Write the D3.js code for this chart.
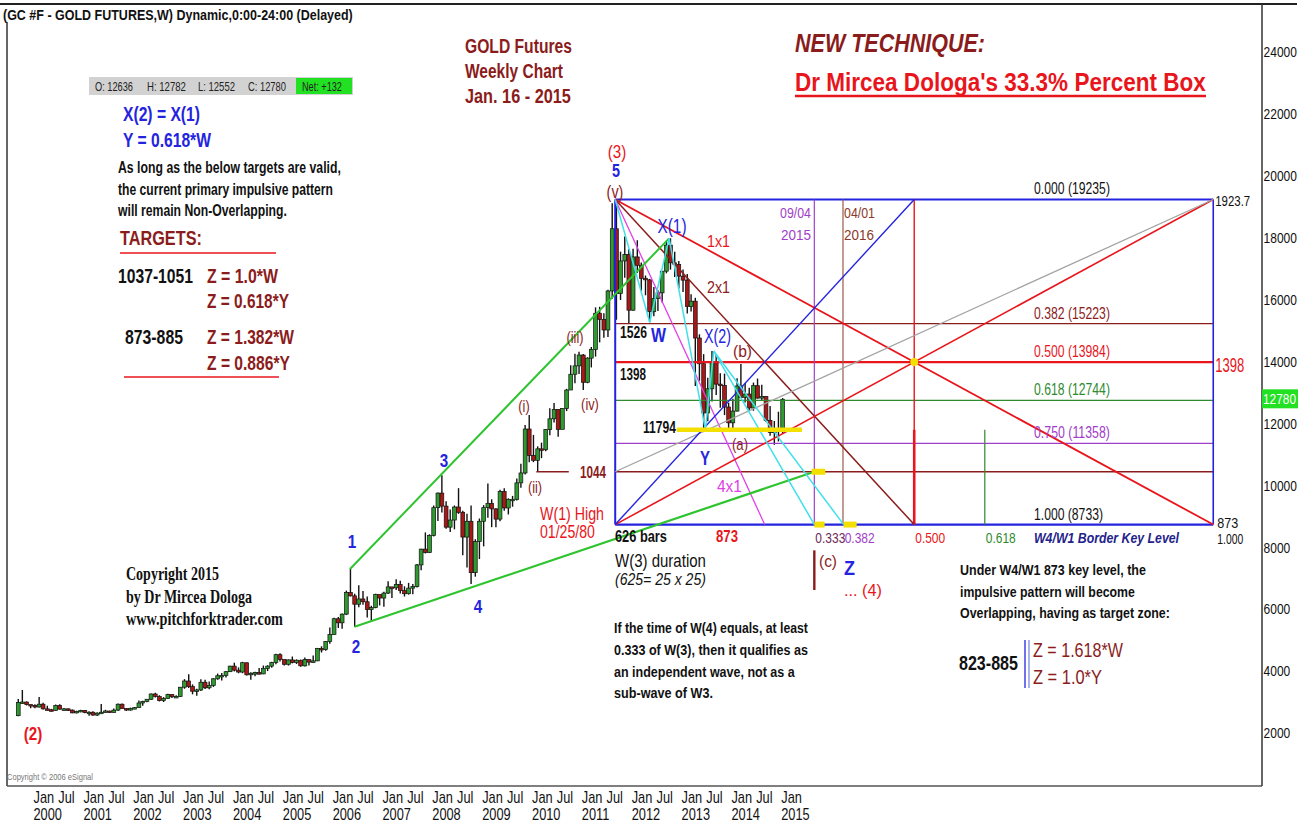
<!DOCTYPE html>
<html>
<head>
<meta charset="utf-8">
<script src="https://cdn.jsdelivr.net/npm/d3@7"></script>
<style>
  body { margin: 0; background: #fff; }
  svg text { font-family: "Liberation Sans", Arial, sans-serif; }
</style>
</head>
<body>
<svg id="chart" width="1306" height="827"></svg>
<script>
// monthly bars, Sep 1999 .. Jan 2015 (USD, chart labels are x10)
var firstMonth = new Date(Date.UTC(1999, 8, 1));
var firstOpen = 256;
var highs = [310, 339, 302, 292,
  293, 316, 298, 288, 278, 292, 293, 281, 279, 276, 272, 275,
  274, 270, 270, 267, 294, 275, 272, 279, 295, 295, 280, 282,
  284, 305, 304, 310, 328, 330, 322, 316, 327, 324, 322, 349,
  374, 390, 357, 343, 374, 372, 366, 377, 392, 394, 400, 417,
  427, 412, 430, 428, 396, 398, 410, 418, 419, 430, 456, 458,
  437, 438, 447, 438, 437, 444, 437, 450, 475, 480, 497, 541,
  572, 575, 586, 660, 732, 650, 677, 659, 641, 611, 650, 645,
  656, 690, 668, 697, 692, 674, 685, 681, 746, 795, 848, 842,
  935, 977, 1033, 949, 922, 935, 991, 918, 908, 935, 826, 893,
  936, 1006, 955, 926, 986, 991, 958, 966, 1022, 1070, 1195, 1227,
  1163, 1126, 1138, 1182, 1249, 1266, 1246, 1249, 1312, 1388, 1425, 1432,
  1424, 1414, 1447, 1575, 1577, 1556, 1632, 1911, 1923.7, 1755, 1804, 1763,
  1764, 1792, 1720, 1678, 1667, 1641, 1630, 1692, 1790, 1798, 1755, 1725,
  1697, 1683, 1617, 1606, 1488, 1424, 1348, 1434, 1424, 1362, 1361, 1267,
  1280, 1346, 1392, 1331, 1315, 1332, 1345, 1325, 1288, 1256, 1208, 1238,
  1282];
var lows = [254, 295, 289, 280,
  280, 282, 276, 273, 270, 272, 276, 273, 271, 264, 263, 267,
  264, 256, 256, 255, 263, 266, 265, 266, 271, 278, 271, 272,
  277, 281, 288, 299, 307, 315, 302, 300, 311, 313, 315, 316,
  343, 345, 325, 320, 336, 342, 341, 349, 372, 370, 379, 397,
  399, 393, 393, 386, 372, 383, 389, 390, 400, 411, 422, 431,
  418, 418, 425, 423, 414, 415, 418, 427, 432, 460, 466, 488,
  518, 539, 537, 581, 641, 543, 606, 614, 573, 562, 603, 612,
  608, 649, 636, 662, 651, 641, 647, 648, 670, 726, 780, 782,
  835, 885, 912, 860, 849, 858, 908, 774, 735, 681, 705, 762,
  803, 895, 865, 865, 884, 918, 906, 931, 951, 992, 1035, 1075,
  1075, 1044, 1088, 1110, 1162, 1203, 1157, 1192, 1240, 1308, 1330, 1360,
  1308, 1330, 1381, 1416, 1462, 1477, 1479, 1603, 1535, 1599, 1671, 1523,
  1564, 1686, 1629, 1614, 1527, 1546, 1563, 1591, 1685, 1697, 1673, 1636,
  1625, 1555, 1562, 1321, 1338, 1180, 1207, 1271, 1292, 1251, 1227, 1180,
  1182, 1239, 1283, 1268, 1240, 1241, 1280, 1273, 1205, 1160, 1131, 1142,
  1167];
var closes = [299, 300, 292, 289,
  284, 293, 278, 275, 273, 289, 277, 278, 274, 265, 270, 273,
  266, 267, 258, 264, 267, 271, 266, 274, 293, 279, 275, 279,
  282, 297, 302, 309, 326, 318, 305, 312, 324, 317, 318, 348,
  368, 350, 335, 339, 364, 346, 354, 375, 385, 386, 398, 416,
  403, 397, 427, 388, 393, 395, 391, 408, 416, 428, 453, 438,
  422, 436, 428, 435, 417, 437, 429, 433, 473, 470, 496, 518,
  569, 556, 584, 654, 643, 616, 633, 624, 599, 605, 648, 636,
  652, 672, 669, 680, 660, 650, 668, 673, 743, 794, 783, 838,
  928, 975, 933, 865, 888, 930, 913, 833, 884, 718, 819, 884,
  928, 942, 924, 891, 980, 927, 955, 955, 1008, 1040, 1182, 1097,
  1081, 1118, 1115, 1180, 1215, 1245, 1181, 1248, 1308, 1359, 1386, 1421,
  1333, 1411, 1439, 1556, 1536, 1502, 1628, 1829, 1620, 1725, 1746, 1566,
  1738, 1711, 1669, 1664, 1561, 1604, 1622, 1692, 1776, 1719, 1714, 1676,
  1663, 1578, 1595, 1476, 1393, 1234, 1312, 1396, 1327, 1323, 1253, 1202,
  1240, 1321, 1284, 1295, 1250, 1322, 1282, 1287, 1210, 1171, 1175, 1184,
  1278];

// axis ticks
var priceTicks = [200, 400, 600, 800, 1000, 1200, 1400, 1600, 1800, 2000, 2200, 2400];
var axisYears = d3.range(2000, 2016);

// elliott wave pivots
var waveLabels = ["1", "2", "3", "4", "(ii)", "(3)", "W", "X(1)", "Y", "X(2)"];
var waveDates = ["2006-05-12", "2006-06-14", "2008-03-17", "2008-10-24", "2010-02-05",
  "2011-09-06", "2012-05-16", "2012-10-05", "2013-06-28", "2013-08-28"];
var wavePrices = [730, 543, 1033, 681, 1044, 1923.7, 1527, 1798, 1180, 1434];

// 33.3% box: from the peak, 626 weekly bars wide, 1923.5 -> 873.3
var boxBars = 626;
var boxTop = 1923.5;
var boxBottom = 873.3;
var levelRatios = ["0.000", "0.382", "0.500", "0.618", "0.750", "1.000"];
var levelValues = [1923.5, 1522.3, 1398.4, 1274.4, 1135.8, 873.3];
var timeRatios = [0.25, 0.333, 0.382, 0.5, 0.618, 1.0];
var timeLabels = ["", "0.333", "0.382", "0.500", "0.618", "1.000"];
var keyDates = ["2015-09-04", "2016-04-01"];
var level1044 = 1044;
var level11794 = 1179.4;

var lastQuote = { open: 12636, high: 12782, low: 12552, close: 12780, net: 132 };

/************* setup ****************/
var svg = d3.select("#chart");
var blue = "#2424e0", red = "#e8161c", dred = "#8b1c1c", green = "#2fc42f", dgreen = "#2e8a2e",
  purple = "#a040c8", cyan = "#40e0ea", magenta = "#e040e6", grey = "#a3a3a3", yellow = "#f4e000";
var narrow = 0.8; // the picture is horizontally squeezed

var x = d3.scaleUtc()
  .domain([new Date(Date.UTC(2000, 0, 1)), new Date(Date.UTC(2015, 0, 1))])
  .range([33, 33 + 15 * 49.85]);
var y = d3.scaleLinear().domain([200, 2400]).range([733, 52]);

function dt(s) { return new Date(s + "T00:00:00Z"); }
var peakDate = dt(waveDates[5]);
var boxEnd = d3.utcWeek.offset(peakDate, boxBars);
function boxTime(f) { return new Date(+peakDate + f * (boxEnd - peakDate)); }
function wp(name) { var i = waveLabels.indexOf(name); return [dt(waveDates[i]), wavePrices[i]]; }

// frame
svg.append("line").attr("x1", 0).attr("x2", 1297).attr("y1", 4).attr("y2", 4)
  .style("stroke", "#222").style("stroke-width", 2);
svg.append("line").attr("x1", 7).attr("x2", 7).attr("y1", 22).attr("y2", 786)
  .style("stroke", "#333").style("stroke-width", 1.5);
svg.append("line").attr("x1", 7).attr("x2", 1262).attr("y1", 786).attr("y2", 786)
  .style("stroke", "#555").style("stroke-width", 1.5);
svg.append("line").attr("x1", 1262).attr("x2", 1262).attr("y1", 4).attr("y2", 786)
  .style("stroke", "#333").style("stroke-width", 1.5);

/************* axes ****************/
var yAxis = d3.axisRight(y).tickValues(priceTicks).tickSize(0).tickPadding(2)
  .tickFormat(function (d) { return d * 10; });
var gy = svg.append("g").attr("transform", "translate(1262,0)").call(yAxis);
gy.select(".domain").remove();
gy.selectAll("text").style("font-size", "15px").style("fill", "#111")
  .attr("transform", "scale(" + narrow + ",1)");

var monthTicks = [];
axisYears.forEach(function (yr) {
  monthTicks.push(new Date(Date.UTC(yr, 0, 1)));
  if (yr < 2015) monthTicks.push(new Date(Date.UTC(yr, 6, 1)));
});
var xAxisM = d3.axisBottom(x).tickValues(monthTicks).tickSize(0)
  .tickFormat(function (d) { return d.getUTCMonth() == 0 ? "Jan" : "Jul"; });
var gm = svg.append("g").attr("transform", "translate(0,792)").call(xAxisM);
var xAxisY = d3.axisBottom(x).tickValues(axisYears.map(function (yr) { return new Date(Date.UTC(yr, 0, 1)); }))
  .tickSize(0).tickFormat(d3.utcFormat("%Y"));
var gyr = svg.append("g").attr("transform", "translate(0,809)").call(xAxisY);
[gm, gyr].forEach(function (g) {
  g.select(".domain").remove();
  g.selectAll("text").attr("text-anchor", "start").attr("y", 0).attr("dy", "0.71em")
    .style("font-size", "16px").style("fill", "#111")
    .attr("transform", "scale(" + narrow + ",1)");
});

/************* price bars ****************/
var bars = closes.map(function (c, i) {
  var d = d3.utcMonth.offset(firstMonth, i);
  return { date: d3.utcDay.offset(d, 14), open: i == 0 ? firstOpen : closes[i - 1], high: highs[i], low: lows[i], close: c };
});
var gBars = svg.append("g");
gBars.selectAll("line").data(bars).enter().append("line")
  .attr("x1", function (d) { return x(d.date); })
  .attr("x2", function (d) { return x(d.date); })
  .attr("y1", function (d) { return y(d.high); })
  .attr("y2", function (d) { return y(d.low); })
  .style("stroke", "#111").style("stroke-width", 1.4);
gBars.selectAll("rect").data(bars).enter().append("rect")
  .attr("x", function (d) { return x(d.date) - 1.9; })
  .attr("width", 3.8)
  .attr("y", function (d) { return y(Math.max(d.open, d.close)); })
  .attr("height", function (d) { return Math.max(1.5, Math.abs(y(d.open) - y(d.close))); })
  .style("fill", function (d) { return d.close >= d.open ? "#2f9a2f" : "#a81818"; })
  .style("stroke", "#111").style("stroke-width", 0.7);

/************* box and lines ****************/
var gLines = svg.append("g");
function seg(p1, p2, color, w) {
  gLines.append("line")
    .attr("x1", x(p1[0])).attr("y1", y(p1[1]))
    .attr("x2", x(p2[0])).attr("y2", y(p2[1]))
    .style("stroke", color).style("stroke-width", w || 1.3);
}
var levelColors = [blue, dred, red, dgreen, purple, blue];
var levelWidths = [2.2, 1.3, 2.2, 1.3, 1.3, 2.2];
levelValues.forEach(function (v, i) {
  seg([peakDate, v], [boxEnd, v], levelColors[i], levelWidths[i]);
});
seg([peakDate, level1044], [boxEnd, level1044], dred, 1.3);
seg([peakDate, boxTop], [peakDate, boxBottom], blue, 2);
seg([boxEnd, boxTop], [boxEnd, boxBottom], blue, 1.6);

// time verticals
seg([boxTime(0.5), boxTop], [boxTime(0.5), boxBottom], red, 1.4);
seg([boxTime(0.5), level11794], [boxTime(0.5), boxBottom], red, 2.6);
seg([boxTime(0.618), level11794], [boxTime(0.618), boxBottom], dgreen, 1.2);
seg([dt(keyDates[0]), boxTop], [dt(keyDates[0]), boxBottom], purple, 1.2);
seg([dt(keyDates[1]), boxTop], [dt(keyDates[1]), boxBottom], "#9a5a4a", 1.2);
seg([dt(keyDates[0]), 790], [dt(keyDates[0]), 662], dred, 2.4);

// fans from the peak and from the box corners
seg([peakDate, boxTop], [boxEnd, boxBottom], red, 1.8);
seg([peakDate, boxTop], [boxTime(0.5), boxBottom], dred, 1.5);
seg([peakDate, boxTop], [boxTime(0.25), boxBottom], magenta, 1.3);
seg([peakDate, boxBottom], [boxEnd, boxTop], red, 1.6);
seg([peakDate, level1044], [boxEnd, boxTop], grey, 1.3);
seg([peakDate, boxBottom], [boxTime(0.5), boxTop], blue, 1.4);

// wedge lines
seg(wp("1"), wp("X(1)"), green, 2);
seg(wp("2"), [boxTime(timeRatios[1]), level1044], green, 2.2);

// corrective zigzag
seg(wp("(3)"), wp("W"), cyan, 1.5);
seg(wp("W"), wp("X(1)"), cyan, 1.5);
seg(wp("X(1)"), wp("Y"), cyan, 1.5);
seg(wp("Y"), wp("X(2)"), cyan, 1.5);
seg(wp("X(2)"), [boxTime(timeRatios[1]), boxBottom], cyan, 1.5);
seg(wp("X(2)"), [boxTime(timeRatios[2]), boxBottom], cyan, 1.5);

// yellow markers
seg([dt("2012-12-01"), level11794], [dt("2015-06-05"), level11794], yellow, 4.5);
seg([d3.utcDay.offset(boxTime(timeRatios[1]), -20), level1044], [d3.utcDay.offset(boxTime(timeRatios[1]), 80), level1044], yellow, 6);
seg([boxTime(timeRatios[1]), boxBottom], [d3.utcDay.offset(boxTime(timeRatios[1]), 75), boxBottom], yellow, 6);
seg([boxTime(timeRatios[2]), boxBottom], [d3.utcDay.offset(boxTime(timeRatios[2]), 95), boxBottom], yellow, 6);
gLines.append("circle").attr("cx", x(boxTime(0.5))).attr("cy", y(levelValues[2])).attr("r", 4).style("fill", yellow);
// 1044 tick off the (ii) low
seg(wp("(ii)"), [dt("2010-10-01"), level1044], dred, 1.5);

/************* texts ****************/
// w: target width in px; otherwise the text is squeezed like the rest of the picture
function txt(px, py, s, size, color, opts) {
  opts = opts || {};
  var g = svg.append("g");
  var t = g.append("text").text(s)
    .style("font-size", size + "px").style("fill", color)
    .style("font-weight", opts.weight || "bold")
    .style("font-style", opts.italic ? "italic" : "normal")
    .attr("text-anchor", opts.anchor || "start");
  if (opts.serif) t.style("font-family", "'Liberation Serif','Times New Roman',serif");
  var sx = narrow;
  if (opts.w) sx = opts.w / t.node().getComputedTextLength();
  g.attr("transform", "translate(" + px + "," + py + ") scale(" + sx + ",1)");
  return t;
}

txt(3, 20, "(GC #F - GOLD FUTURES,W) Dynamic,0:00-24:00 (Delayed)", 15, "#111", { w: 350 });

// quote strip
svg.append("rect").attr("x", 89).attr("y", 77).attr("width", 264).attr("height", 18).style("fill", "#d2d2d2");
svg.append("rect").attr("x", 296).attr("y", 78).attr("width", 56).attr("height", 16).style("fill", "#22e022");
txt(95, 91, "O: " + lastQuote.open, 12, "#222", { weight: "normal", w: 38 });
txt(147, 91, "H: " + lastQuote.high, 12, "#222", { weight: "normal", w: 39 });
txt(198, 91, "L: " + lastQuote.low, 12, "#222", { weight: "normal", w: 37 });
txt(248, 91, "C: " + lastQuote.close, 12, "#222", { weight: "normal", w: 38 });
txt(302, 91, "Net: +" + lastQuote.net, 12, "#222", { weight: "normal", w: 40 });

txt(123, 121, "X(2) = X(1)", 21, blue, { w: 77 });
txt(123, 147, "Y = 0.618*W", 21, blue, { w: 88 });
txt(118, 173, "As long as the below targets are valid,", 16, "#111", { w: 223 });
txt(118, 195, "the current primary impulsive pattern", 16, "#111", { w: 215 });
txt(118, 216, "will remain Non-Overlapping.", 16, "#111", { w: 169 });
txt(120, 245, "TARGETS:", 21, dred, { w: 82 });
svg.append("line").attr("x1", 120).attr("x2", 276).attr("y1", 253).attr("y2", 253).style("stroke", red).style("stroke-width", 1.5);
txt(118, 283, "1037-1051", 20, "#111", { w: 75 });
txt(207, 283, "Z = 1.0*W", 20, dred, { w: 71 });
txt(207, 308, "Z = 0.618*Y", 20, dred, { w: 82 });
txt(125, 344, "873-885", 20, "#111", { w: 58 });
txt(207, 344, "Z = 1.382*W", 20, dred, { w: 87 });
txt(207, 370, "Z = 0.886*Y", 20, dred, { w: 83 });
svg.append("line").attr("x1", 124).attr("x2", 279).attr("y1", 377).attr("y2", 377).style("stroke", red).style("stroke-width", 1.5);

txt(465, 53, "GOLD Futures", 21, dred, { w: 107 });
txt(465, 78, "Weekly Chart", 21, dred, { w: 98 });
txt(465, 103, "Jan. 16 -  2015", 21, dred, { w: 106 });

txt(795, 52, "NEW TECHNIQUE:", 26, dred, { italic: true, w: 190 });
txt(795, 91, "Dr Mircea Dologa's 33.3% Percent Box", 26, red, { w: 411 });
svg.append("line").attr("x1", 795).attr("x2", 1206).attr("y1", 96).attr("y2", 96).style("stroke", red).style("stroke-width", 2.5);

txt(126, 580, "Copyright 2015", 19, "#111", { serif: true, w: 93 });
txt(126, 603, "by Dr Mircea Dologa", 19, "#111", { serif: true, w: 126 });
txt(126, 625, "www.pitchforktrader.com", 19, "#111", { serif: true, w: 157 });
txt(7, 780, "Copyright \u00a9 2006 eSignal", 9, "#777", { weight: "normal", w: 86 });

// wave labels
txt(33, 740, "(2)", 19, red, { anchor: "middle" });
txt(352, 548, "1", 19, blue, { anchor: "middle" });
txt(356, 653, "2", 19, blue, { anchor: "middle" });
txt(444, 467, "3", 19, blue, { anchor: "middle" });
txt(478, 613, "4", 19, blue, { anchor: "middle" });
txt(524, 412, "(i)", 16, dred, { anchor: "middle", weight: "normal" });
txt(535, 493, "(ii)", 16, dred, { anchor: "middle", weight: "normal" });
txt(575, 343, "(iii)", 16, dred, { anchor: "middle", weight: "normal" });
txt(590, 410, "(iv)", 16, dred, { anchor: "middle", weight: "normal" });
txt(580, 478, "1044", 16, dred, { w: 26 });
txt(540, 520, "W(1) High", 18, red, { weight: "normal", w: 64 });
txt(540, 538, "01/25/80", 18, red, { weight: "normal", w: 55 });
txt(617, 158, "(3)", 19, red, { anchor: "middle", weight: "normal" });
txt(616, 177, "5", 18, blue, { anchor: "middle" });
txt(615, 198, "(v)", 18, dred, { anchor: "middle", weight: "normal" });
txt(672, 233, "X(1)", 20, blue, { anchor: "middle", weight: "normal", w: 29 });
txt(707, 247, "1x1", 16, red, { weight: "normal", w: 23 });
txt(707, 293, "2x1", 16, dred, { weight: "normal", w: 23 });
txt(620, 338, "1526", 16, "#111", { w: 27 });
txt(651, 342, "W", 20, blue, { w: 15 });
txt(704, 343, "X(2)", 20, blue, { weight: "normal", w: 27 });
txt(733, 357, "(b)", 16, dred, { weight: "normal", w: 19 });
txt(620, 380, "1398", 16, "#111", { w: 26 });
txt(643, 433, "11794", 16, "#111", { w: 33 });
txt(732, 450, "(a)", 16, dred, { weight: "normal", w: 16 });
txt(700, 465, "Y", 20, blue, { w: 10 });
txt(717, 492, "4x1", 16, magenta, { weight: "normal", w: 25 });
txt(811, 218, "09/04", 15, purple, { anchor: "end", weight: "normal", w: 31 });
txt(811, 240, "2015", 15, purple, { anchor: "end", weight: "normal", w: 30 });
txt(844, 218, "04/01", 15, "#8b3a2a", { weight: "normal", w: 31 });
txt(844, 240, "2016", 15, "#8b3a2a", { weight: "normal", w: 30 });

// box labels
var levelLabelColors = ["#111", dred, red, dgreen, purple, "#111"];
levelValues.forEach(function (v, i) {
  txt(1034, y(v) - 5, levelRatios[i] + " (" + Math.round(v * 10) + ")", 16, levelLabelColors[i], { weight: "normal", w: i == 5 ? 69 : 76 });
});
var timeLabelColors = [null, "#6a2a5a", purple, red, dgreen, "#111"];
timeRatios.forEach(function (f, i) {
  if (!timeLabels[i] || i == 5) return;
  txt(x(boxTime(f)) + 1, 543, timeLabels[i], 15, timeLabelColors[i], { weight: "normal", w: 30 });
});
txt(x(boxEnd) + 4, 544, timeLabels[5], 14, "#111", { weight: "normal", w: 26 });
txt(x(boxEnd) + 4, 528, String(Math.round(boxBottom)), 14, "#111", { weight: "normal", w: 21 });
txt(x(boxEnd) + 2, y(boxTop) + 7, String(highs[144]), 15, "#111", { weight: "normal", w: 35 });
txt(x(boxEnd) + 2, y(levelValues[2]) + 10, "1398", 21, red, { weight: "normal", w: 29 });
txt(615, 542, "626 bars", 16, "#111", { w: 52 });
txt(716, 542, "873", 17, red, { w: 22 });
txt(1034, 543, "W4/W1 Border Key Level", 15, "#23238a", { italic: true, w: 145 });
txt(615, 567, "W(3) duration", 18, "#111", { weight: "normal", w: 91 });
txt(615, 585, "(625= 25 x 25)", 17, "#111", { weight: "normal", italic: true, w: 91 });
txt(819, 567, "(c)", 16, dred, { weight: "normal", w: 18 });
txt(844, 575, "Z", 20, blue, { w: 11 });
txt(844, 596, "... (4)", 17, red, { weight: "normal", w: 38 });

// lower notes
txt(614, 633, "If the time of W(4) equals, at least", 15, "#111", { w: 194 });
txt(614, 655, "0.333 of W(3),  then it qualifies as", 15, "#111", { w: 194 });
txt(614, 677, "an independent wave, not as a", 15, "#111", { w: 181 });
txt(614, 698, "sub-wave of W3.", 15, "#111", { w: 99 });
txt(960, 575, "Under W4/W1 873 key level, the", 15, "#111", { w: 186 });
txt(960, 597, "impulsive pattern will become", 15, "#111", { w: 175 });
txt(960, 618, "Overlapping, having as target zone:", 15, "#111", { w: 210 });
txt(959, 670, "823-885", 21, "#111", { w: 59 });
svg.append("line").attr("x1", 1025).attr("x2", 1025).attr("y1", 640).attr("y2", 688).style("stroke", blue).style("stroke-width", 1.3);
svg.append("line").attr("x1", 1029).attr("x2", 1029).attr("y1", 640).attr("y2", 688).style("stroke", "#7a8ae0").style("stroke-width", 1.3);
txt(1033, 657, "Z = 1.618*W", 21, dred, { weight: "normal", w: 90 });
txt(1033, 684, "Z = 1.0*Y", 21, dred, { weight: "normal", w: 69 });

// last price tag
var lastClose = closes[closes.length - 1];
svg.append("rect").attr("x", 1262).attr("y", y(lastClose) - 10).attr("width", 36).attr("height", 19).style("fill", "#22e022");
txt(1263, y(lastClose) + 5, String(lastClose * 10), 15, "#fff", { weight: "normal", w: 33 });
</script>
</body>
</html>
